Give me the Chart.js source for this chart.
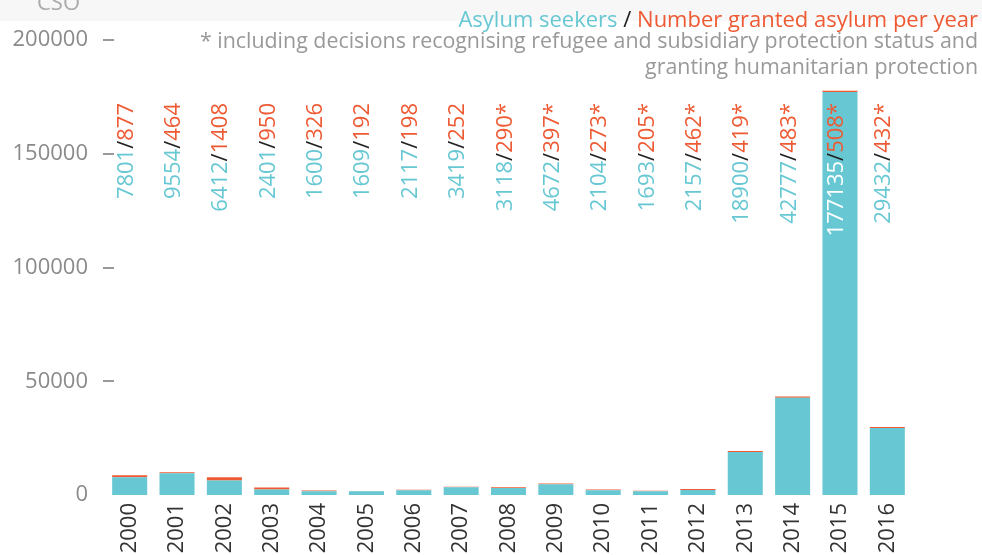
<!DOCTYPE html>
<html>
<head>
<meta charset="utf-8">
<script src="https://cdn.jsdelivr.net/npm/chart.js@4"></script>
<style>
  body { margin: 0; background: #fff; }
  .wrap { position: relative; width: 982px; height: 555px; }
</style>
</head>
<body>
<div class="wrap"><canvas id="asylumChart"></canvas></div>
<script>
  const years = ['2000', '2001', '2002', '2003', '2004', '2005', '2006', '2007', '2008',
                 '2009', '2010', '2011', '2012', '2013', '2014', '2015', '2016'];
  const seekers = [7801, 9554, 6412, 2401, 1600, 1609, 2117, 3419, 3118,
                   4672, 2104, 1693, 2157, 18900, 42777, 177135, 29432];
  const granted = [877, 464, 1408, 950, 326, 192, 198, 252, 290,
                   397, 273, 205, 462, 419, 483, 508, 432];
  // true = figure includes refugee, subsidiary and humanitarian protection
  const starred = [false, false, false, false, false, false, false, false, true,
                   true, true, true, true, true, true, true, true];
  const yTicks = [0, 50000, 100000, 150000, 200000];

  const TEAL = '#67c8d3';
  const ORANGE = '#ee5a33';
  const FONT = '"Open Sans", "DejaVu Sans", sans-serif';

  // top band, header texts and footnote
  const headerPlugin = {
    id: 'header',
    beforeDraw(chart) {
      const ctx = chart.ctx;
      ctx.save();
      ctx.fillStyle = '#f7f7f7';
      ctx.fillRect(0, 0, chart.width, 21);
      ctx.font = '22px ' + FONT;
      ctx.textBaseline = 'alphabetic';
      ctx.fillStyle = '#aaa';
      ctx.textAlign = 'left';
      ctx.fillText('CSO', 37, 10);

      const right = 978;
      const parts = [['Asylum seekers', TEAL], [' / ', '#222'], ['Number granted asylum per year', ORANGE]];
      let x = right;
      for (let i = parts.length - 1; i >= 0; i--) {
        x -= ctx.measureText(parts[i][0]).width;
      }
      parts.forEach(p => {
        ctx.fillStyle = p[1];
        ctx.fillText(p[0], x, 27);
        x += ctx.measureText(p[0]).width;
      });

      ctx.font = '21.4px ' + FONT;
      ctx.fillStyle = '#999';
      ctx.textAlign = 'right';
      ctx.fillText('* including decisions recognising refugee and subsidiary protection status and', right, 48);
      ctx.fillText('granting humanitarian protection', right, 74);
      ctx.restore();
    }
  };

  // short dashes next to the y tick labels
  const tickMarks = {
    id: 'tickMarks',
    afterDraw(chart) {
      const ctx = chart.ctx, y = chart.scales.y, left = chart.chartArea.left;
      ctx.save();
      ctx.strokeStyle = '#999';
      ctx.lineWidth = 2;
      yTicks.forEach(v => {
        if (v === 0) return;
        const py = Math.round(y.getPixelForValue(v));
        ctx.beginPath();
        ctx.moveTo(left - 3, py);
        ctx.lineTo(left + 8, py);
        ctx.stroke();
      });
      ctx.restore();
    }
  };

  // rotated "seekers/granted" labels above the bars
  const barLabels = {
    id: 'barLabels',
    afterDatasetsDraw(chart) {
      const ctx = chart.ctx;
      const meta = chart.getDatasetMeta(1);
      const topY = 103;
      ctx.save();
      ctx.font = '22px ' + FONT;
      ctx.textBaseline = 'alphabetic';
      ctx.textAlign = 'left';
      years.forEach((yr, i) => {
        const bar = meta.data[i];
        const parts = [
          [String(seekers[i]), TEAL],
          ['/', '#222'],
          [granted[i] + (starred[i] ? '*' : ''), ORANGE]
        ];
        const total = parts.reduce((s, p) => s + ctx.measureText(p[0]).width, 0);
        const overBar = bar.y < topY + total;
        ctx.save();
        ctx.translate(bar.x + 3, topY);
        ctx.rotate(-Math.PI / 2);
        let x = -total;
        parts.forEach((p, k) => {
          ctx.fillStyle = (k === 0 && overBar) ? '#fff' : p[1];
          ctx.fillText(p[0], x, 0);
          x += ctx.measureText(p[0]).width;
        });
        ctx.restore();
      });
      ctx.restore();
    }
  };

  new Chart(document.getElementById('asylumChart'), {
    type: 'bar',
    data: {
      labels: years,
      datasets: [
        { label: 'Asylum seekers', data: seekers, backgroundColor: TEAL },
        { label: 'Number granted asylum per year', data: granted, backgroundColor: ORANGE }
      ]
    },
    options: {
      responsive: true,
      maintainAspectRatio: false,
      animation: false,
      barPercentage: 0.74,
      categoryPercentage: 1,
      layout: { padding: { top: 40, right: 71, left: 0, bottom: 0 } },
      plugins: { legend: { display: false }, tooltip: { enabled: false } },
      scales: {
        x: {
          stacked: true,
          grid: { display: false, drawTicks: false },
          border: { display: false },
          ticks: {
            color: '#333',
            font: { family: FONT, size: 22 },
            minRotation: 90,
            maxRotation: 90,
            autoSkip: false,
            padding: 8
          },
          afterFit(scale) { scale.height = 60; }
        },
        y: {
          stacked: true,
          min: 0,
          max: 200000,
          grid: { display: false, drawTicks: false },
          border: { display: false },
          afterBuildTicks(scale) { scale.ticks = yTicks.map(v => ({ value: v })); },
          ticks: {
            color: '#8a8a8a',
            font: { family: FONT, size: 22 },
            padding: 18,
            callback: v => String(v)
          },
          afterFit(scale) { scale.width = 106; }
        }
      }
    },
    plugins: [headerPlugin, tickMarks, barLabels]
  });
</script>
</body>
</html>
